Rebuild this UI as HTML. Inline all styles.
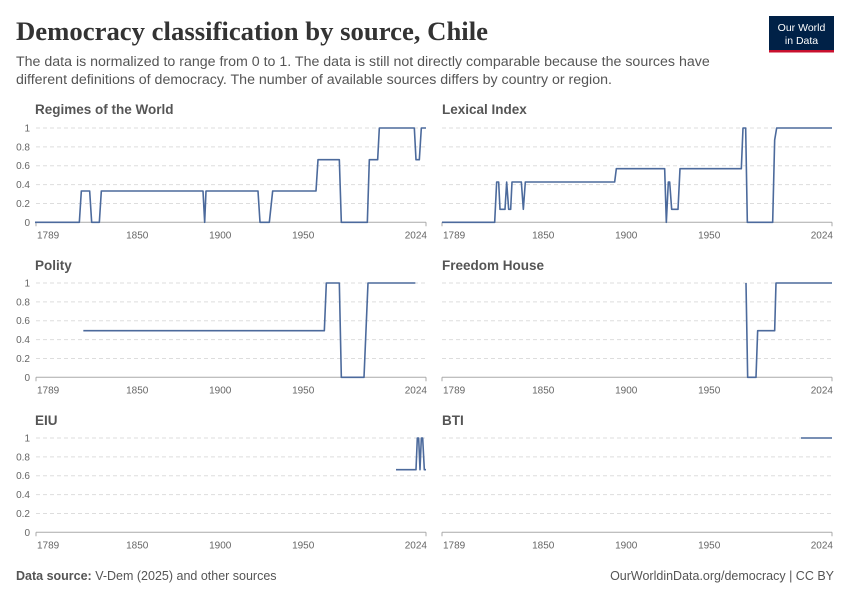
<!DOCTYPE html>
<html><head><meta charset="utf-8"><style>
body{margin:0;background:#fff;width:850px;height:600px;overflow:hidden}
svg text{font-family:"Liberation Sans",sans-serif}
svg text.ttl{font-family:"Liberation Serif",serif}
</style></head><body>
<svg width="850" height="600" viewBox="0 0 850 600" xmlns="http://www.w3.org/2000/svg">
<text class="ttl" x="16" y="40" font-size="26.5" font-weight="bold" fill="#333" textLength="472" lengthAdjust="spacingAndGlyphs">Democracy classification by source, Chile</text>
<text x="16" y="66" font-size="14.2" fill="#555">The data is normalized to range from 0 to 1. The data is still not directly comparable because the sources have</text>
<text x="16" y="84" font-size="14.2" fill="#555">different definitions of democracy. The number of available sources differs by country or region.</text>
<rect x="769" y="16" width="65" height="34" fill="#002147"/>
<rect x="769" y="50" width="65" height="2.5" fill="#c8102e"/>
<text x="801.5" y="31" font-size="10.5" fill="#fff" text-anchor="middle">Our World</text>
<text x="801.5" y="44" font-size="10.5" fill="#fff" text-anchor="middle">in Data</text>
<g font-size="13.5" font-weight="bold" fill="#555">
<text x="35" y="114">Regimes of the World</text>
<text x="442" y="114">Lexical Index</text>
<text x="35" y="270">Polity</text>
<text x="442" y="270">Freedom House</text>
<text x="35" y="425">EIU</text>
<text x="442" y="425">BTI</text>
</g>
<g id="panels"></g>
<g stroke="#4c6a9c" stroke-width="1.6" fill="none" stroke-linejoin="round">
<g transform="translate(30,120) scale(0.33333)"><polyline vector-effect="non-scaling-stroke" points="15,307 148,307 154,213 179,213 185,307 208,307 214,213 519,213 524,307 528,213 684,213 690,307 718,307 728,213 858,213 864,119 928,119 934,307 1012,307 1018,119 1043,119 1048,24 1153,24 1158,119 1168,119 1174,24 1188,24"/></g>
<g transform="translate(436,120) scale(0.33333)"><polyline vector-effect="non-scaling-stroke" points="18,307 176,307 182,186 188,186 192,268 207,268 212,186 218,268 224,268 228,186 256,186 262,268 268,186 536,186 541,146 686,146 691,307 697,186 701,186 707,268 726,268 732,146 916,146 921,24 929,24 934,307 1010,307 1016,60 1022,24 1188,24"/></g>
<g transform="translate(30,275) scale(0.33333)"><polyline vector-effect="non-scaling-stroke" points="160,167 883,167 889,24 928,24 934,307 1002,307 1014,24 1156,24"/></g>
<g transform="translate(436,275) scale(0.33333)"><polyline vector-effect="non-scaling-stroke" points="930,24 935,307 960,307 965,167 1016,167 1020,24 1188,24"/></g>
<g transform="translate(30,430) scale(0.33333)"><polyline vector-effect="non-scaling-stroke" points="1098,119 1158,119 1162,24 1166,24 1170,119 1174,24 1178,24 1183,119 1188,119"/></g>
<polyline points="801,438 832,438"/>
</g>
</svg>
<script>
const NS='http://www.w3.org/2000/svg';
const panels=[[36,426,128,1],[442,832,128,0],[36,426,283,1],[442,832,283,0],[36,426,438,1],[442,832,438,0]];
const g=document.getElementById('panels');
function el(t,a,txt){const e=document.createElementNS(NS,t);for(const k in a)e.setAttribute(k,a[k]);if(txt!==undefined)e.textContent=txt;g.appendChild(e);return e;}
for(const [x0,x1,yt,lab] of panels){
 const step=18.86;
 for(let i=0;i<=5;i++){
  const y=yt+step*(5-i);
  if(i>0) el('line',{x1:x0,x2:x1,y1:y,y2:y,stroke:'#ddd','stroke-dasharray':'4,3'});
  if(lab) el('text',{x:x0-6,y:y+3.5,'font-size':10,fill:'#666','text-anchor':'end'},i==0?'0':i==5?'1':(i/5).toFixed(1));
 }
 const yb=yt+step*5;
 el('line',{x1:x0,x2:x1,y1:yb,y2:yb,stroke:'#aaa'});
 el('line',{x1:x0,x2:x0,y1:yb,y2:yb+4,stroke:'#aaa'});
 el('line',{x1:x1,x2:x1,y1:yb,y2:yb+4,stroke:'#aaa'});
 const sc=(x1-x0)/235;
 [[1789,'start'],[1850,'middle'],[1900,'middle'],[1950,'middle'],[2024,'end']].forEach(([yr,an])=>{
  let x=x0+(yr-1789)*sc; if(an==='start')x=x0+1; if(an==='end')x=x1+1;
  el('text',{x:x,y:yb+16,'font-size':10,fill:'#666','text-anchor':an},yr);
 });
}
</script>
<div style="position:absolute;left:16px;top:569px;font:12.5px 'Liberation Sans',sans-serif;color:#555"><b>Data source:</b> V-Dem (2025) and other sources</div>
<div style="position:absolute;right:16px;top:569px;font:12.5px 'Liberation Sans',sans-serif;color:#555">OurWorldinData.org/democracy | CC BY</div>
</body></html>
